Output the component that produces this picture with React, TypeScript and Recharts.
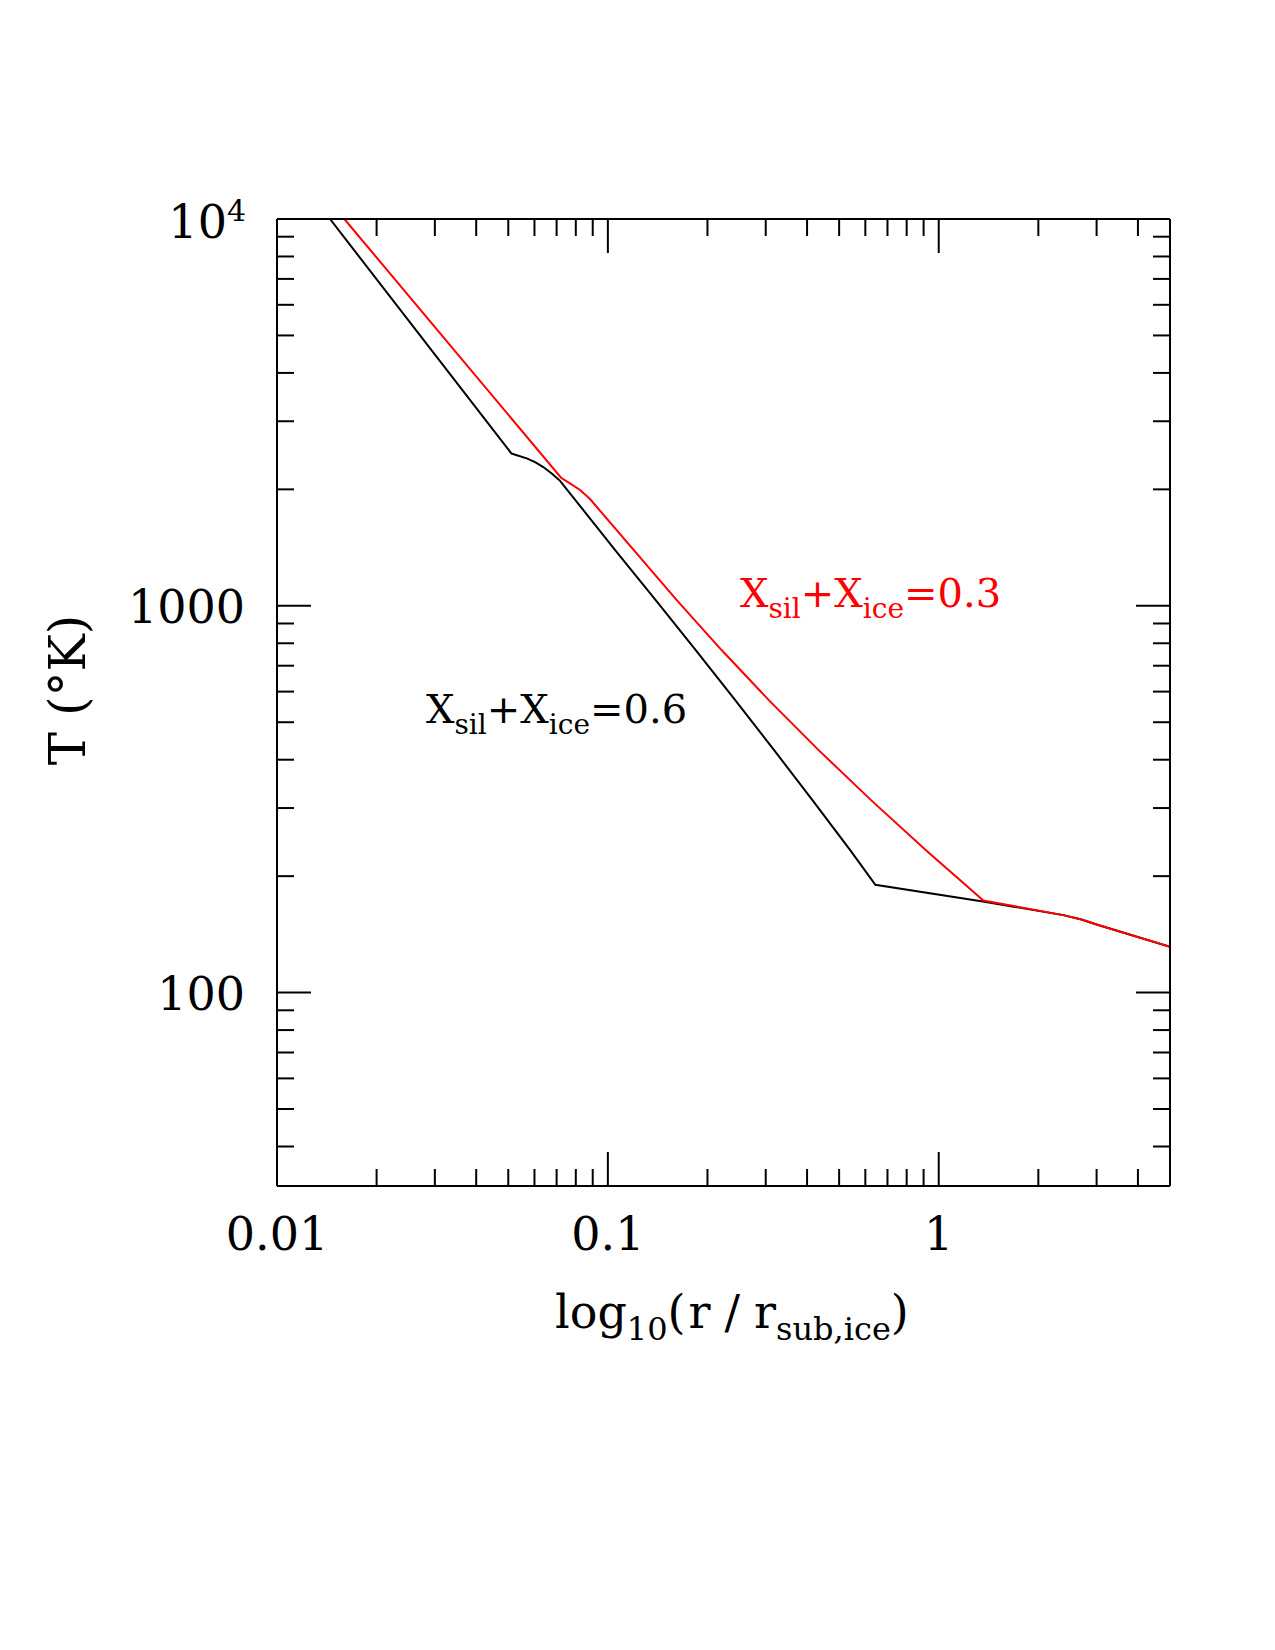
import React from 'react';
import { LineChart, Line, XAxis, YAxis } from 'recharts';

const FONT = '"DejaVu Serif", "Liberation Serif", serif';

// Axis ticks (log scales): every integer multiple inside each decade
const xTicks = [
  0.01, 0.02, 0.03, 0.04, 0.05, 0.06, 0.07, 0.08, 0.09,
  0.1, 0.2, 0.3, 0.4, 0.5, 0.6, 0.7, 0.8, 0.9,
  1, 2, 3, 4, 5,
];
const xMajor = [0.01, 0.1, 1];
const xMajorLabels = ['0.01', '0.1', '1'];

const yTicks = [
  40, 50, 60, 70, 80, 90,
  100, 200, 300, 400, 500, 600, 700, 800, 900,
  1000, 2000, 3000, 4000, 5000, 6000, 7000, 8000, 9000,
  10000,
];
const yMajor = [100, 1000, 10000];

const xDomain = [0.01, 5];
const yDomain = [31.62, 10000];

// Temperature profile, X_sil + X_ice = 0.6
const blackR = [
  0.01446, 0.05115, 0.05685, 0.06024, 0.0638, 0.06767, 0.0717,
  0.1052, 0.1395, 0.1843, 0.2426, 0.318, 0.4152, 0.54, 0.6434,
  1.36, 2.38, 2.7, 3.0, 5.0,
];
const blackT = [
  10000, 2475, 2405, 2353, 2284, 2199, 2104,
  1393, 1034, 768.4, 570.3, 423.5, 314.5, 233.4, 190,
  172, 158.6, 154.5, 150, 131.3,
];

// Temperature profile, X_sil + X_ice = 0.3
const redR = [
  0.01598, 0.07219, 0.0768, 0.0824, 0.0883, 0.1615,
  0.2206, 0.3065, 0.4335, 0.6244, 0.9149, 1.364,
  2.38, 2.7, 3.0, 5.0,
];
const redT = [
  10000, 2143, 2073, 1992, 1888, 1034,
  768.4, 570.3, 423.5, 314.5, 233.4, 173,
  158.6, 154.5, 150, 131.3,
];

const toRows = (r: number[], t: number[]) => r.map((v, i) => ({ r: v, T: t[i] }));
const blackData = toRows(blackR, blackT);
const redData = toRows(redR, redT);

const MAJOR_LEN = 34;
const MINOR_LEN = 17;

const majorIndex = (v: number, list: number[]) =>
  list.findIndex((m) => Math.abs(m - v) / m < 1e-6);

function BottomTick(props: any) {
  const { x, y, payload } = props;
  const idx = majorIndex(payload.value, xMajor);
  const len = idx >= 0 ? MAJOR_LEN : MINOR_LEN;
  return (
    <g>
      <line x1={x} y1={y} x2={x} y2={y - len} stroke="#000" strokeWidth={2} />
      {idx >= 0 && (
        <text x={x} y={y + 64} textAnchor="middle" fontFamily={FONT} fontSize={46} fill="#000">
          {xMajorLabels[idx]}
        </text>
      )}
    </g>
  );
}

function TopTick(props: any) {
  const { x, y, payload } = props;
  const len = majorIndex(payload.value, xMajor) >= 0 ? MAJOR_LEN : MINOR_LEN;
  return <line x1={x} y1={y} x2={x} y2={y + len} stroke="#000" strokeWidth={2} />;
}

function LeftTick(props: any) {
  const { x, y, payload } = props;
  const v = payload.value;
  const idx = majorIndex(v, yMajor);
  const len = idx >= 0 ? MAJOR_LEN : MINOR_LEN;
  let label: React.ReactNode = null;
  if (idx >= 0) {
    if (v >= 10000) {
      label = (
        <text x={x - 31} y={y + 19} textAnchor="end" fontFamily={FONT} fontSize={46} fill="#000">
          10<tspan dy={-17} fontSize={30}>4</tspan>
        </text>
      );
    } else {
      label = (
        <text x={x - 32} y={y + 17} textAnchor="end" fontFamily={FONT} fontSize={46} fill="#000">
          {String(v)}
        </text>
      );
    }
  }
  return (
    <g>
      <line x1={x} y1={y} x2={x + len} y2={y} stroke="#000" strokeWidth={2} />
      {label}
    </g>
  );
}

function RightTick(props: any) {
  const { x, y, payload } = props;
  const len = majorIndex(payload.value, yMajor) >= 0 ? MAJOR_LEN : MINOR_LEN;
  return <line x1={x} y1={y} x2={x - len} y2={y} stroke="#000" strokeWidth={2} />;
}

const axisLine = { stroke: '#000', strokeWidth: 2 };

const commonX = {
  dataKey: 'r',
  type: 'number' as const,
  scale: 'log' as const,
  domain: xDomain,
  allowDataOverflow: true,
  ticks: xTicks,
  interval: 0,
  tickSize: 0,
  tickMargin: 0,
  tickLine: false,
  height: 1,
  axisLine,
};

const commonY = {
  dataKey: 'T',
  type: 'number' as const,
  scale: 'log' as const,
  domain: yDomain,
  allowDataOverflow: true,
  ticks: yTicks,
  interval: 0,
  tickSize: 0,
  tickMargin: 0,
  tickLine: false,
  width: 1,
  axisLine,
};

export default function App() {
  return (
    <LineChart
      width={1259}
      height={1400}
      margin={{ top: 210, right: 96, bottom: 221, left: 268 }}
    >
      <XAxis {...commonX} tick={<BottomTick />} />
      <XAxis {...commonX} xAxisId="top" orientation="top" tick={<TopTick />} />
      <YAxis {...commonY} tick={<LeftTick />} />
      <YAxis {...commonY} yAxisId="right" orientation="right" tick={<RightTick />} />
      <Line
        data={blackData}
        dataKey="T"
        type="linear"
        stroke="#000000"
        strokeWidth={2}
        dot={false}
        isAnimationActive={false}
      />
      <Line
        data={redData}
        dataKey="T"
        type="linear"
        stroke="#ff0000"
        strokeWidth={2}
        dot={false}
        isAnimationActive={false}
      />

      <text x={732} y={598.7} fontFamily={FONT} fontSize={40} fill="#ff0000">
        X<tspan dy={11} fontSize={28}>sil</tspan>
        <tspan dy={-11}>+X</tspan>
        <tspan dy={11} fontSize={28}>ice</tspan>
        <tspan dy={-11}>=0.3</tspan>
      </text>
      <text x={418} y={714.7} fontFamily={FONT} fontSize={40} fill="#000">
        X<tspan dy={11} fontSize={28}>sil</tspan>
        <tspan dy={-11}>+X</tspan>
        <tspan dy={11} fontSize={28}>ice</tspan>
        <tspan dy={-11}>=0.6</tspan>
      </text>

      <text x={547} y={1320} fontFamily={FONT} fontSize={46} fill="#000">
        log<tspan dy={12} fontSize={32}>10</tspan>
        <tspan dy={-12}>(</tspan>
        <tspan dx={3}>r</tspan>
        <tspan dx={14}>/</tspan>
        <tspan dx={14}>r</tspan>
        <tspan dy={12} fontSize={32}>sub,ice</tspan>
        <tspan dy={-12}>)</tspan>
      </text>
      <text
        x={77}
        y={682}
        textAnchor="middle"
        fontFamily={FONT}
        fontSize={50}
        fill="#000"
        transform="rotate(-90, 77, 682)"
      >
        T (°K)
      </text>
    </LineChart>
  );
}
